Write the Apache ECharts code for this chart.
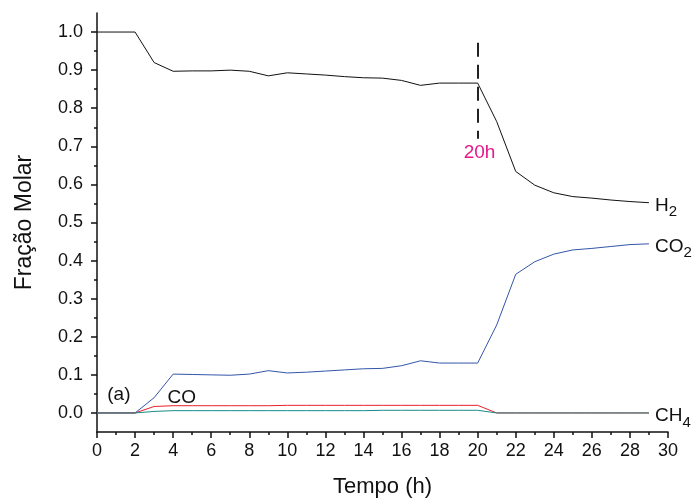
<!DOCTYPE html>
<html><head><meta charset="utf-8">
<script src="https://cdn.jsdelivr.net/npm/echarts@6/dist/echarts.min.js"></script>
<style>html,body{margin:0;padding:0;background:#fff}#c{width:693px;height:499px}</style>
</head><body><div id="c"></div>
<script>
const hours = [0,1,2,3,4,5,6,7,8,9,10,11,12,13,14,15,16,17,18,19,20,21,22,23,24,25,26,27,28,29];
const h2  = [1.0,1.0,1.0,0.92,0.897,0.898,0.898,0.9,0.897,0.885,0.893,0.89,0.887,0.883,0.88,0.879,0.873,0.86,0.866,0.866,0.866,0.765,0.634,0.598,0.578,0.568,0.564,0.559,0.555,0.552];
const co2 = [0,0,0,0.04,0.102,0.101,0.1,0.099,0.102,0.111,0.105,0.107,0.11,0.113,0.116,0.117,0.124,0.137,0.131,0.131,0.131,0.231,0.364,0.397,0.417,0.428,0.432,0.437,0.442,0.444];
const co  = [0,0,0,0.017,0.019,0.019,0.019,0.019,0.019,0.019,0.02,0.02,0.02,0.02,0.02,0.02,0.02,0.02,0.02,0.02,0.02,0,0,0,0,0,0,0,0,0];
const ch4 = [0,0,0,0.004,0.006,0.006,0.006,0.006,0.006,0.006,0.006,0.006,0.006,0.006,0.006,0.007,0.007,0.007,0.007,0.007,0.007,0,0,0,0,0,0,0,0,0];
const yMajor = [0,0.1,0.2,0.3,0.4,0.5,0.6,0.7,0.8,0.9,1.0];
const yMinor = [0.05,0.15,0.25,0.35,0.45,0.55,0.65,0.75,0.85,0.95];

const pairs = v => hours.map((h,i)=>[h,v[i]]);
const FONT = 'Liberation Sans, Arial, sans-serif';
const rich = {
  m:{fontSize:19,color:'#111',fontFamily:FONT},
  s:{fontSize:15,color:'#111',fontFamily:FONT,padding:[13,0,0,0]}
};
function endLbl(main, sub){
  return {show:true, distance:6, offset:[0,3], formatter:'{m|'+main+'}{s|'+sub+'}', rich:rich};
}
function textMark(coord, text, color){
  return {coord:coord, symbol:'circle', symbolSize:1, itemStyle:{color:'rgba(0,0,0,0)'},
    label:{show:true, position:'inside', formatter:text, fontSize:19, color:color, fontFamily:FONT}};
}
const chart = echarts.init(document.getElementById('c'), null, {renderer:'canvas'});
chart.setOption({
  animation:false,
  backgroundColor:'#fff',
  grid:{left:97,right:25,top:13,bottom:67,containLabel:false,outerBoundsMode:'none'},
  xAxis:{type:'value',min:0,max:30,interval:2,
    name:'Tempo (h)',nameLocation:'middle',nameGap:44,
    nameTextStyle:{fontSize:22,color:'#111',fontFamily:FONT},
    axisLine:{onZero:false,lineStyle:{color:'#111',width:1.5}},
    axisTick:{length:6,lineStyle:{color:'#111',width:1.5}},
    minorTick:{show:true,splitNumber:2,length:3,lineStyle:{color:'#111',width:1.5}},
    axisLabel:{fontSize:18,color:'#111',fontFamily:FONT,margin:10},
    splitLine:{show:false}},
  yAxis:[{type:'value',min:-0.05,max:1.05,
    name:'Fração Molar',nameLocation:'middle',nameGap:61,
    nameTextStyle:{fontSize:23,color:'#111',fontFamily:FONT},
    axisLine:{onZero:false,lineStyle:{color:'#111',width:1.5}},
    axisTick:{customValues:yMajor,length:6,lineStyle:{color:'#111',width:1.5}},
    axisLabel:{customValues:yMajor,fontSize:18,color:'#111',fontFamily:FONT,margin:14,formatter:v=>v.toFixed(1)},
    splitLine:{show:false}},
   {type:'value',min:-0.05,max:1.05,position:'left',
    axisLine:{show:false},
    axisTick:{show:true,customValues:yMinor,length:3,lineStyle:{color:'#111',width:1.5}},
    axisLabel:{show:false},splitLine:{show:false}}],
  series:[
    {type:'line',name:'H2',data:pairs(h2),symbol:'none',lineStyle:{color:'#111',width:1},
     endLabel:endLbl('H','2'),
     markLine:{silent:true,symbol:'none',label:{show:false},
       lineStyle:{color:'#222',width:2,type:[14,8]},
       data:[[{coord:[20,0.972]},{coord:[20,0.72]}]]},
     markPoint:{silent:true,data:[textMark([20.1,0.683],'20h','#e8188a')]}},
    {type:'line',name:'CO2',data:pairs(co2),symbol:'none',lineStyle:{color:'#3355aa',width:1},
     endLabel:endLbl('CO','2')},
    {type:'line',name:'CO',data:pairs(co),symbol:'none',lineStyle:{color:'#e8202a',width:1},
     markPoint:{silent:true,data:[textMark([4.45,0.04],'CO','#111'),textMark([1.15,0.048],'(a)','#111')]}},
    {type:'line',name:'CH4',data:pairs(ch4),symbol:'none',lineStyle:{color:'#1a8a8a',width:1},
     endLabel:endLbl('CH','4')}
  ]
});
</script></body></html>
